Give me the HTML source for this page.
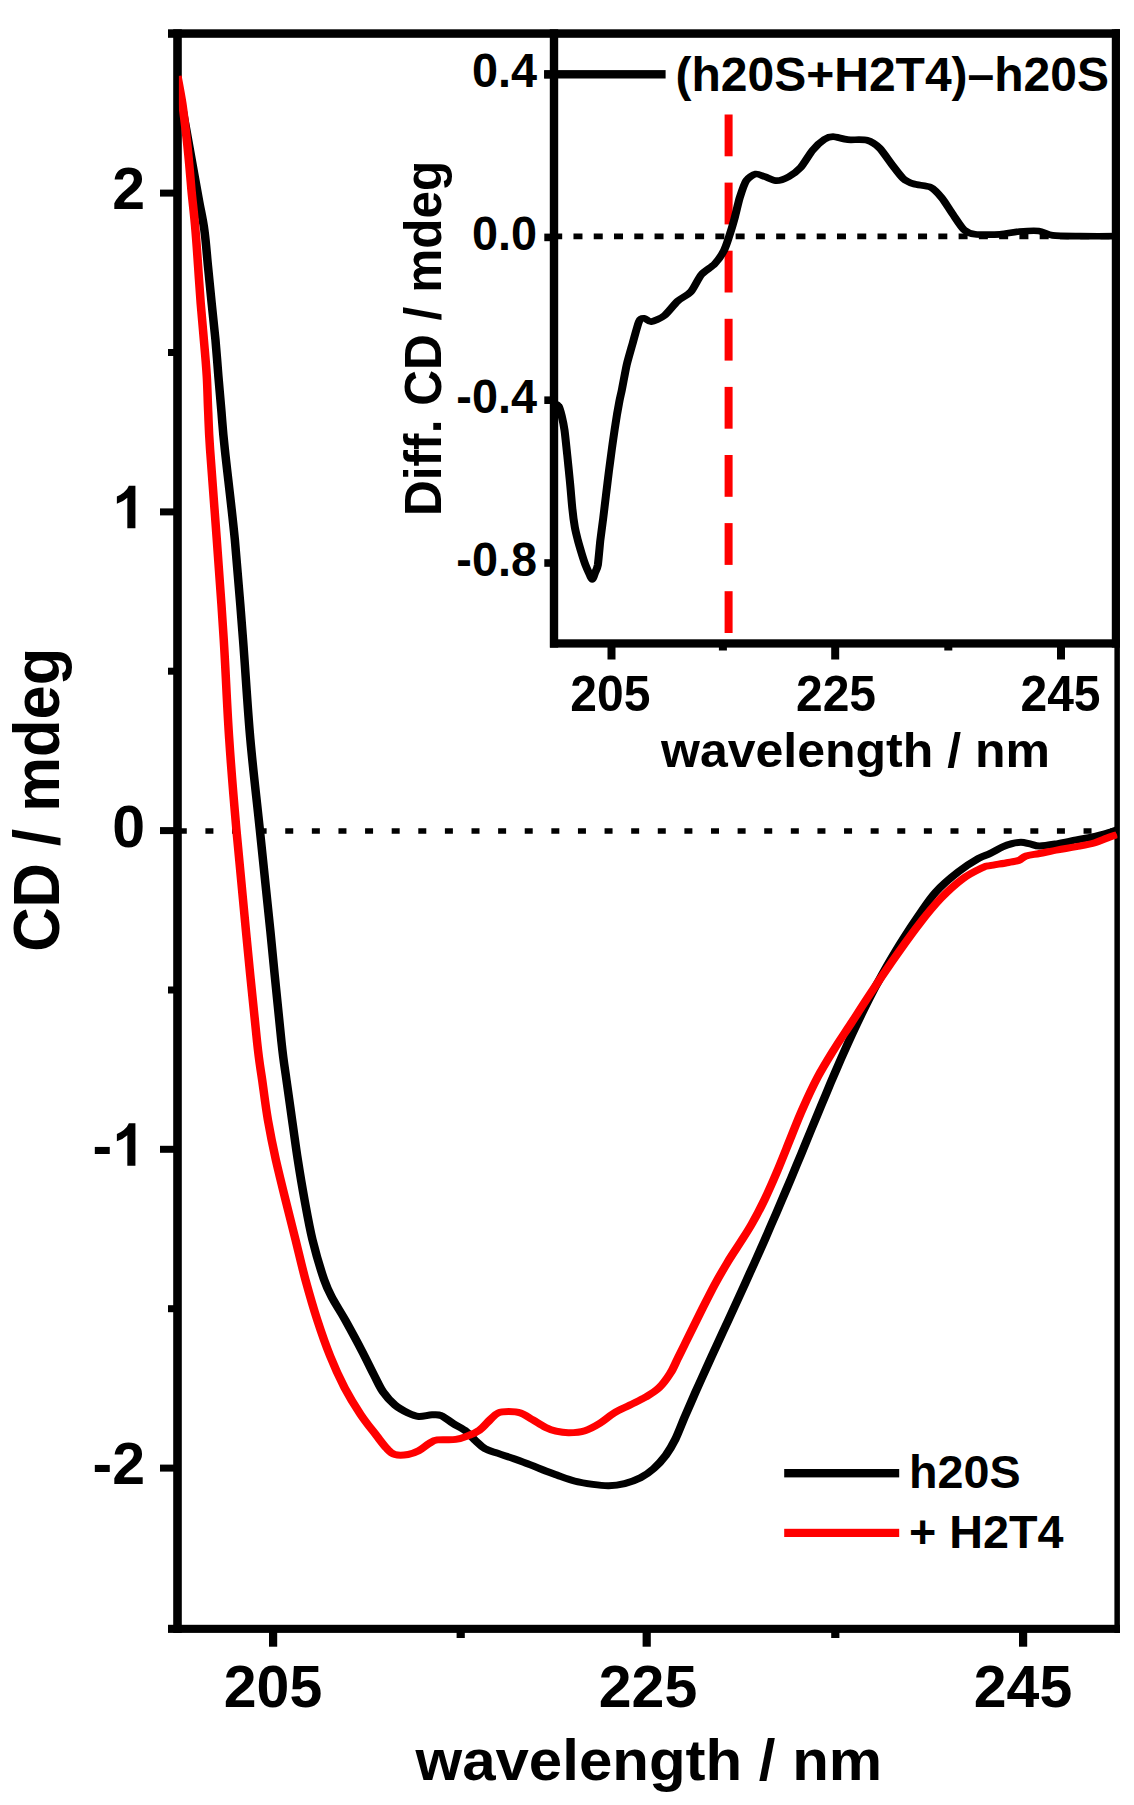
<!DOCTYPE html>
<html><head><meta charset="utf-8"><title>CD spectra</title>
<style>
html,body{margin:0;padding:0;background:#fff;}
body{width:1134px;height:1805px;overflow:hidden;}
svg{display:block;}
text{font-family:"Liberation Sans",sans-serif;font-weight:bold;fill:#000;}
</style></head><body>
<svg width="1134" height="1805" viewBox="0 0 1134 1805">
<rect x="0" y="0" width="1134" height="1805" fill="#ffffff"/>
<defs>
<clipPath id="cm"><rect x="178.9" y="33" width="938.5" height="1596"/></clipPath>
<clipPath id="ci"><rect x="554" y="33" width="562" height="611"/></clipPath>
</defs>
<g id="main-frame" fill="#000">
<rect x="173.2" y="29.3" width="8.6" height="1603.7"/>
<rect x="168" y="29.3" width="952" height="8.5"/>
<rect x="168" y="1624.8" width="952" height="8.1"/>
<rect x="1114.4" y="29.3" width="5.5" height="1603.7"/>
<rect x="160" y="189.6" width="14" height="7"/>
<rect x="160" y="508.4" width="14" height="7"/>
<rect x="160" y="827.1" width="14" height="7"/>
<rect x="160" y="1145.8" width="14" height="7"/>
<rect x="160" y="1464.6" width="14" height="7"/>
<rect x="168" y="349.0" width="6" height="7"/>
<rect x="168" y="667.7" width="6" height="7"/>
<rect x="168" y="986.5" width="6" height="7"/>
<rect x="168" y="1305.2" width="6" height="7"/>
<rect x="269.0" y="1632" width="8.2" height="14.7"/>
<rect x="642.6" y="1632" width="8.2" height="14.7"/>
<rect x="1019.0" y="1632" width="8.2" height="14.7"/>
<rect x="456.6" y="1632" width="8.2" height="6"/>
<rect x="831.2" y="1632" width="8.2" height="6"/>
</g>
<g id="main-curves" fill="none" stroke-linejoin="round" stroke-linecap="butt" clip-path="url(#cm)">
<line x1="178.8" y1="831" x2="1118" y2="831" stroke="#000" stroke-width="5.6" stroke-dasharray="8 18.61"/>
<g transform="scale(1.2200 1)"><path d="M145.4 84.0C146.2 88.7 148.5 102.5 150.0 112.0C151.5 121.5 153.0 131.6 154.4 141.3C155.9 151.1 157.3 160.8 158.7 170.5C160.1 180.2 161.5 189.8 163.0 199.7C164.4 209.6 166.3 218.8 167.5 230.0C168.8 241.2 169.5 254.4 170.5 266.6C171.5 278.8 172.5 291.0 173.5 303.2C174.5 315.4 175.6 327.6 176.6 339.8C177.5 352.0 178.2 364.1 179.0 376.3C179.8 388.5 180.7 400.7 181.6 412.9C182.4 425.1 182.4 428.4 184.3 449.5C186.1 470.6 190.0 508.1 192.5 539.8C194.9 571.5 197.1 606.4 199.2 639.6C201.3 672.9 202.9 707.6 205.2 739.3C207.5 771.0 210.3 798.1 213.0 830.0C215.8 861.9 218.6 895.6 221.6 930.9C224.5 966.2 228.4 1016.9 230.7 1041.7C232.9 1066.5 233.4 1067.0 234.8 1080.0C236.3 1093.0 237.9 1106.6 239.4 1119.9C241.0 1133.2 242.4 1146.5 244.1 1159.8C245.8 1173.1 247.6 1186.4 249.6 1199.7C251.6 1213.0 253.5 1226.3 256.1 1239.6C258.8 1252.9 262.8 1269.5 265.6 1279.5C268.4 1289.5 270.1 1292.6 273.0 1299.4C276.0 1306.2 279.3 1311.9 283.2 1320.5C287.1 1329.1 292.8 1341.8 296.6 1350.8C300.5 1359.8 303.5 1367.8 306.4 1374.6C309.3 1381.4 311.1 1386.7 313.9 1391.8C316.8 1396.9 320.3 1401.5 323.7 1405.0C327.1 1408.5 331.3 1411.1 334.5 1413.0C337.8 1414.9 339.9 1416.1 343.2 1416.4C346.5 1416.7 351.0 1414.9 354.1 1414.8C357.2 1414.7 358.8 1414.1 361.6 1415.6C364.5 1417.0 368.0 1420.8 371.4 1423.5C374.8 1426.2 379.1 1428.6 382.2 1431.5C385.3 1434.4 387.3 1437.8 389.8 1440.7C392.4 1443.6 394.4 1446.6 397.5 1448.7C400.5 1450.8 404.3 1451.7 408.3 1453.4C412.3 1455.1 417.0 1456.8 421.3 1458.7C425.6 1460.6 429.9 1462.5 434.3 1464.6C438.6 1466.6 443.4 1469.2 447.3 1471.0C451.1 1472.8 453.5 1473.8 457.4 1475.5C461.3 1477.2 466.1 1479.5 470.8 1481.0C475.6 1482.5 481.3 1483.6 486.0 1484.4C490.7 1485.2 494.7 1485.8 499.0 1485.7C503.4 1485.6 507.7 1484.9 512.0 1483.6C516.4 1482.3 521.0 1480.3 525.0 1477.8C529.0 1475.3 532.5 1472.2 535.9 1468.5C539.3 1464.8 542.7 1460.1 545.7 1455.3C548.6 1450.5 550.8 1446.0 553.5 1439.4C556.1 1432.8 558.9 1423.5 561.7 1415.6C564.5 1407.7 567.4 1399.7 570.2 1391.8C573.1 1383.9 576.1 1375.9 579.0 1368.0C582.0 1360.1 584.9 1352.1 587.9 1344.2C590.9 1336.3 593.9 1328.3 596.9 1320.4C599.9 1312.5 602.9 1304.5 605.9 1296.6C608.8 1288.7 611.8 1280.7 614.7 1272.8C617.7 1264.9 620.6 1256.9 623.5 1249.0C626.4 1241.1 629.2 1233.1 632.0 1225.2C634.9 1217.3 637.7 1209.3 640.4 1201.4C643.2 1193.5 645.9 1185.5 648.7 1177.6C651.4 1169.7 654.1 1161.7 656.8 1153.8C659.5 1145.9 662.1 1137.9 664.8 1130.0C667.5 1122.1 670.2 1114.1 672.9 1106.2C675.6 1098.3 678.3 1090.3 681.0 1082.4C683.8 1074.5 686.6 1066.5 689.4 1058.6C692.3 1050.7 695.2 1042.7 698.2 1034.8C701.2 1026.9 704.3 1018.9 707.5 1011.0C710.7 1003.1 714.0 995.1 717.4 987.2C720.9 979.3 724.5 971.3 728.2 963.4C732.0 955.5 735.9 947.5 740.0 939.6C744.1 931.7 748.4 923.7 752.9 915.8C757.4 907.9 761.6 899.3 767.1 892.0C772.5 884.7 779.7 877.4 785.6 871.8C791.4 866.2 797.8 861.4 802.1 858.4C806.4 855.4 808.2 855.4 811.5 853.5C814.7 851.6 818.6 848.6 821.6 847.0C824.6 845.4 827.0 844.4 829.5 843.6C832.0 842.8 834.3 842.3 836.8 842.3C839.3 842.3 841.7 843.2 844.3 843.8C846.8 844.4 848.2 846.0 852.0 846.0C855.8 846.0 862.1 844.6 867.1 843.6C872.2 842.6 877.2 841.1 882.3 839.9C887.3 838.7 893.6 837.5 897.5 836.5C901.4 835.5 902.7 834.9 905.7 833.8C908.8 832.7 913.9 830.5 915.6 829.8" stroke="#000" stroke-width="7.00"/></g>
<g transform="scale(1.2200 1)"><path d="M145.4 76.0C146.1 80.5 148.3 94.5 149.4 103.2C150.5 111.9 151.1 119.4 152.0 127.9C152.8 136.4 153.5 143.5 154.3 154.0C155.2 164.5 156.1 178.3 157.0 191.0C158.0 203.7 159.4 217.4 160.2 230.0C161.1 242.6 161.7 254.4 162.4 266.6C163.1 278.8 163.7 291.0 164.5 303.2C165.3 315.4 166.3 327.6 167.1 339.8C168.0 352.0 168.9 364.1 169.5 376.3C170.1 388.5 170.2 400.7 170.7 412.9C171.1 425.1 171.0 428.4 172.2 449.5C173.4 470.6 175.8 508.1 177.7 539.8C179.6 571.5 181.7 606.4 183.4 639.6C185.1 672.9 186.1 707.6 187.9 739.3C189.6 771.0 191.5 798.1 193.8 830.0C196.1 861.9 198.7 895.6 201.6 930.9C204.4 966.2 208.4 1016.9 210.7 1041.7C212.9 1066.5 213.4 1067.0 214.9 1080.0C216.4 1093.0 217.7 1106.6 219.6 1119.9C221.5 1133.2 223.7 1146.5 226.1 1159.8C228.6 1173.1 231.3 1186.4 234.0 1199.7C236.7 1213.0 239.5 1226.3 242.2 1239.6C244.9 1252.9 247.4 1266.2 250.3 1279.5C253.3 1292.8 256.5 1306.7 259.9 1319.4C263.3 1332.2 266.8 1344.6 270.6 1356.0C274.3 1367.4 278.4 1378.1 282.5 1387.8C286.7 1397.5 291.2 1406.4 295.5 1414.3C299.8 1422.2 304.9 1429.7 308.5 1435.4C312.1 1441.1 314.7 1445.5 317.2 1448.7C319.7 1451.9 320.8 1453.5 323.7 1454.5C326.6 1455.5 331.3 1455.1 334.5 1454.5C337.8 1453.9 340.3 1452.6 343.2 1450.8C346.1 1449.0 349.4 1445.2 351.9 1443.4C354.4 1441.6 354.7 1440.6 358.4 1439.9C362.0 1439.2 369.3 1440.2 373.6 1439.4C378.0 1438.7 381.2 1436.9 384.4 1435.4C387.7 1433.9 390.2 1432.8 393.1 1430.2C396.0 1427.6 399.3 1422.5 401.8 1419.6C404.3 1416.7 405.8 1414.3 408.3 1413.0C410.8 1411.7 413.9 1411.6 417.0 1411.6C420.0 1411.6 423.5 1411.7 426.7 1413.0C430.0 1414.3 433.0 1417.2 436.5 1419.6C439.9 1422.0 444.1 1425.6 447.3 1427.5C450.5 1429.4 452.5 1430.3 455.7 1431.2C458.9 1432.1 462.5 1432.9 466.5 1432.8C470.4 1432.7 475.4 1432.2 479.5 1430.7C483.7 1429.2 487.4 1426.5 491.4 1423.5C495.4 1420.5 499.2 1416.1 503.4 1413.0C507.5 1409.9 512.1 1407.7 516.4 1405.0C520.7 1402.3 525.4 1399.9 529.3 1397.0C533.3 1394.1 536.8 1391.7 540.2 1387.8C543.5 1383.9 546.8 1378.3 549.3 1373.5C551.9 1368.7 553.3 1363.9 555.3 1359.0C557.3 1354.2 559.2 1349.4 561.3 1344.3C563.3 1339.2 565.3 1334.3 567.7 1328.4C570.1 1322.5 572.7 1316.0 575.6 1308.9C578.6 1301.7 582.1 1293.1 585.5 1285.3C589.0 1277.5 592.9 1269.3 596.4 1262.2C599.9 1255.1 603.3 1249.2 606.7 1242.7C610.0 1236.3 613.2 1230.6 616.5 1223.4C619.9 1216.2 623.3 1208.2 626.7 1199.6C630.1 1191.0 633.5 1181.5 636.9 1171.7C640.3 1161.8 643.7 1151.3 647.2 1140.7C650.7 1130.1 654.2 1118.7 658.1 1108.2C661.9 1097.7 665.8 1087.3 670.0 1077.6C674.3 1067.9 678.7 1059.2 683.3 1050.1C687.9 1041.0 692.8 1032.4 697.8 1023.0C702.8 1013.6 707.8 1004.0 713.4 993.7C719.0 983.3 725.0 972.4 731.5 961.0C738.0 949.7 745.9 936.0 752.5 925.6C759.0 915.2 764.8 906.5 770.9 898.7C777.0 890.9 783.5 883.8 789.3 878.6C795.1 873.4 802.0 869.6 805.7 867.4C809.4 865.2 808.0 866.4 811.5 865.6C815.0 864.8 822.7 863.4 826.6 862.5C830.5 861.6 832.4 861.6 834.8 860.5C837.2 859.4 838.1 857.2 841.0 856.0C843.8 854.8 847.6 854.5 852.0 853.5C856.3 852.5 862.1 850.9 867.1 849.8C872.2 848.7 877.2 847.9 882.3 846.7C887.3 845.5 893.2 844.2 897.5 842.7C901.7 841.2 904.6 839.4 907.6 838.0C910.6 836.6 914.2 835.2 915.6 834.6" stroke="#ff0000" stroke-width="7.00"/></g>
</g>
<g id="main-labels" font-size="59">
<text x="145" y="209.4" text-anchor="end">2</text>
<text x="145" y="846.9" text-anchor="end">0</text>
<text x="145" y="1484.4" text-anchor="end">-2</text>
<path d="M806 0H525V1059Q371 915 162 846V1101Q272 1137 401 1237.5Q530 1338 578 1472H806Z" transform="translate(112.20 528.15) scale(0.02881 -0.02881)" fill="#000"/>
<path d="M806 0H525V1059Q371 915 162 846V1101Q272 1137 401 1237.5Q530 1338 578 1472H806Z" transform="translate(112.20 1165.65) scale(0.02881 -0.02881)" fill="#000"/>
<text x="112.2" y="1165.6" text-anchor="end">-</text>
<text x="273.0" y="1707.4" text-anchor="middle">205</text>
<text x="648.0" y="1707.4" text-anchor="middle">225</text>
<text x="1023.0" y="1707.4" text-anchor="middle">245</text>
</g>
<text transform="translate(648.8 1780) scale(1 0.96)" font-size="60" text-anchor="middle">wavelength / nm</text>
<text transform="translate(58.7 799.8) rotate(-90) scale(1 1.05)" font-size="61.5" text-anchor="middle">CD / mdeg</text>
<g id="main-legend">
<rect x="784.2" y="1469" width="115" height="8.4" fill="#000"/>
<rect x="784.2" y="1528.8" width="115" height="8.2" fill="#ff0000"/>
<text x="909" y="1488.2" font-size="46.7">h20S</text>
<text x="909" y="1547.8" font-size="46.7">+ H2T4</text>
</g>
<g id="inset">
<g fill="#ff0000">
<rect x="724.6" y="114.5" width="8" height="41.8"/>
<rect x="724.6" y="182.6" width="8" height="41.8"/>
<rect x="724.6" y="250.7" width="8" height="41.8"/>
<rect x="724.6" y="318.8" width="8" height="41.8"/>
<rect x="724.6" y="386.9" width="8" height="41.8"/>
<rect x="724.6" y="455.0" width="8" height="41.8"/>
<rect x="724.6" y="523.1" width="8" height="41.8"/>
<rect x="724.6" y="591.2" width="8" height="41.8"/>
</g>
<g fill="#000">
<rect x="549.8" y="29.3" width="8.4" height="618.3"/>
<rect x="550" y="639.3" width="569.8" height="8.3"/>
<rect x="1111.8" y="29.3" width="8" height="618.3"/>
<rect x="544.3" y="70.8" width="6" height="7.6"/>
<rect x="544.3" y="233.6" width="6" height="7.6"/>
<rect x="544.3" y="396.4" width="6" height="7.6"/>
<rect x="544.3" y="559.2" width="6" height="7.6"/>
<rect x="607.5" y="647" width="8" height="12.5"/>
<rect x="831.2" y="647" width="8" height="12.5"/>
<rect x="1057.0" y="647" width="8" height="12.5"/>
<rect x="718.9" y="647" width="8" height="3.5"/>
<rect x="944.3" y="647" width="8" height="3.5"/>
</g>
<g clip-path="url(#ci)" fill="none">
<line x1="553.2" y1="236.4" x2="1118" y2="236.4" stroke="#000" stroke-width="5.6" stroke-dasharray="9 11.27"/>
<g stroke-linejoin="round"><g transform="scale(1.2000 1)"><path d="M461.2 403.0C461.8 403.4 464.6 404.4 465.4 406.0C466.3 407.6 467.5 413.0 468.1 416.0C468.7 419.0 469.8 425.1 470.4 430.0C471.0 434.9 472.1 448.7 472.7 455.0C473.2 461.3 474.3 473.3 474.8 480.0C475.4 486.7 476.4 502.0 476.9 508.0C477.4 514.0 478.4 522.9 479.0 527.0C479.6 531.1 480.8 536.7 481.5 540.0C482.2 543.3 483.8 549.8 484.6 553.0C485.4 556.2 487.1 562.5 487.9 565.0C488.7 567.5 490.1 571.2 490.8 573.0C491.5 574.8 492.9 579.3 493.5 579.3C494.1 579.3 495.2 574.8 495.8 573.0C496.4 571.2 497.6 569.1 498.2 565.0C498.7 560.9 499.7 547.0 500.2 541.0C500.8 535.0 502.1 523.8 502.7 518.0C503.3 512.2 504.4 500.9 505.0 495.0C505.6 489.1 506.8 477.5 507.4 471.5C508.1 465.5 509.3 453.9 510.0 448.0C510.7 442.1 512.0 430.9 512.8 425.0C513.5 419.1 515.4 406.0 516.1 401.6C516.8 397.2 517.4 394.7 518.2 390.0C519.0 385.3 521.2 370.5 522.3 364.6C523.5 358.7 525.9 348.9 527.2 343.4C528.5 337.9 531.4 324.1 532.7 320.9C533.9 317.7 535.8 318.2 537.1 318.3C538.3 318.4 540.5 322.0 542.6 321.7C544.7 321.4 550.8 318.2 553.6 315.6C556.4 313.0 561.9 304.1 564.7 301.1C567.5 298.1 573.2 295.2 575.7 291.8C578.2 288.4 582.0 278.1 584.5 274.6C587.0 271.1 593.1 267.0 595.5 264.0C597.9 261.0 601.7 254.3 603.2 250.8C604.8 247.3 606.6 240.2 607.7 236.2C608.8 232.2 610.9 223.9 612.0 219.0C613.1 214.1 615.2 202.8 616.4 197.9C617.7 193.0 620.2 183.7 621.9 180.7C623.6 177.7 627.7 174.6 629.7 174.1C631.6 173.6 635.2 175.9 637.4 176.7C639.7 177.5 644.8 180.7 647.3 180.7C649.8 180.7 654.7 178.4 657.3 176.7C659.8 175.0 664.7 170.8 667.2 167.5C669.7 164.2 674.6 153.9 677.1 150.3C679.6 146.7 684.8 141.1 687.0 139.4C689.2 137.7 691.7 136.7 694.2 136.7C696.6 136.7 702.8 139.3 706.4 139.7C710.0 140.1 719.2 139.1 722.6 140.2C725.9 141.3 730.3 144.9 732.9 148.0C735.5 151.1 740.8 160.7 743.3 164.6C745.8 168.5 750.3 175.9 752.6 178.4C754.9 180.9 758.8 182.9 761.8 184.0C764.7 185.1 772.7 185.6 775.7 187.3C778.6 189.0 782.5 194.4 784.8 197.8C787.2 201.2 791.7 210.4 794.1 214.4C796.4 218.4 801.0 227.2 803.3 229.7C805.7 232.2 808.8 233.7 812.6 234.3C816.4 234.9 828.7 234.7 833.3 234.3C838.0 233.9 845.4 231.9 849.5 231.5C853.6 231.1 862.1 230.5 865.6 231.0C869.1 231.5 872.8 234.7 877.2 235.4C881.5 236.1 893.1 236.1 900.0 236.2C906.9 236.3 927.7 236.2 931.7 236.2" stroke="#000" stroke-width="6.70"/></g></g>
</g>
<rect x="544.1" y="70.1" width="121.5" height="8.4" fill="#000"/>
<text x="675.5" y="90.8" font-size="48">(h20S+H2T4)–h20S</text>
<text transform="translate(537 87.2) scale(1 1.04)" font-size="46.8" text-anchor="end">0.4</text>
<text transform="translate(537 250.0) scale(1 1.04)" font-size="46.8" text-anchor="end">0.0</text>
<text transform="translate(537 412.8) scale(1 1.04)" font-size="46.8" text-anchor="end">-0.4</text>
<text transform="translate(537 575.6) scale(1 1.04)" font-size="46.8" text-anchor="end">-0.8</text>
<text transform="translate(610.3 711) scale(1 1.04)" font-size="48" text-anchor="middle">205</text>
<text transform="translate(836.0 711) scale(1 1.04)" font-size="48" text-anchor="middle">225</text>
<text transform="translate(1060.5 711) scale(1 1.04)" font-size="48" text-anchor="middle">245</text>
<text transform="translate(855.5 767) scale(1 0.96)" font-size="50" text-anchor="middle">wavelength / nm</text>
<text transform="translate(440.5 338.3) rotate(-90) scale(1 1.045)" font-size="49.6" text-anchor="middle">Diff. CD / mdeg</text>
</g>
</svg>
</body></html>
